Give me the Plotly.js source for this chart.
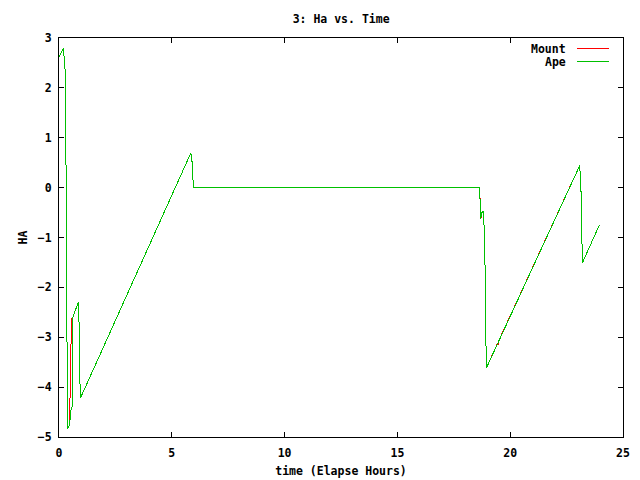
<!DOCTYPE html>
<html>
<head>
<meta charset="utf-8">
<script src="https://cdn.plot.ly/plotly-3.0.1.min.js"></script>
<style>html,body{margin:0;padding:0;background:#fff;}#chart{width:640px;height:480px;}
#chart .scatterlayer path, #chart .shapelayer path {shape-rendering: crispEdges;}</style>
</head>
<body>
<div id="chart"></div>
<script>
// Elapsed time (hours) and HA values
const apeTime = [0, 0.19, 0.20, 0.25, 0.26, 0.28, 0.29, 0.32, 0.33, 0.36, 0.37, 0.46, 0.49, 0.53, 0.58, 0.59, 0.61, 0.62, 0.68, 0.86, 0.87, 0.89, 0.92, 0.95, 5.85, 5.86, 5.92, 5.93, 5.96, 5.97,
  18.63, 18.65, 18.68, 18.70, 18.73, 18.80, 18.83, 18.86, 18.88, 18.90, 18.92, 18.94, 23.09, 23.11, 23.14, 23.15, 23.18, 23.20, 23.95];
const apeHA = [2.62, 2.79, 2.65, 2.62, 2.39, 2.35, 0.48, 0.45, -3.06, -3.10, -4.83, -4.76, -4.66, -4.46, -4.40, -3.46, -3.40, -2.59, -2.52, -2.29, -2.30, -2.78, -3.76, -4.22, 0.70, 0.54, 0.52, 0.16, 0.14, 0,
  0, -0.05, -0.50, -0.62, -0.50, -0.48, -0.52, -1.25, -1.28, -2.86, -2.90, -3.62, 0.45, -0.05, -0.08, -1.02, -1.05, -1.51, -0.75];

const mountTime = [0, 0.19, 0.20, 0.25, 0.26, 0.28, 0.29, 0.32, 0.33, 0.36, 0.37, 0.46, 0.47, 0.49, 0.53, 0.56, 0.62, 0.68, 0.86, 0.87, 0.89, 0.92, 0.95, 5.85, 5.86, 5.92, 5.93, 5.96, 5.97,
  18.63, 18.64, 18.66, 18.67, 18.69, 18.72, 18.74, 18.80, 18.83, 18.86, 18.88, 18.90, 18.92, 18.94, 19.45, 19.47, 19.50, 23.09, 23.11, 23.14, 23.15, 23.18, 23.20, 23.95];
const mountHA = [2.62, 2.79, 2.65, 2.62, 2.39, 2.35, 0.48, 0.45, -3.06, -3.10, -4.83, -4.76, -4.66, -4.19, -3.19, -2.62, -2.59, -2.52, -2.29, -2.30, -2.78, -3.76, -4.22, 0.70, 0.54, 0.52, 0.16, 0.14, 0,
  0, -0.12, -0.18, -0.31, -0.51, -0.61, -0.50, -0.48, -0.52, -1.25, -1.28, -2.86, -2.90, -3.62, -3.11, -3.16, -3.06, 0.45, -0.05, -0.08, -1.02, -1.05, -1.51, -0.75];

const seriesNames = ["Mount", "Ape"];
const seriesColors = ["#ff0000", "#00c000"];

const fnt = {family: "DejaVu Sans Mono, monospace", size: 11.5, color: "#000", weight: "bold"};

const traces = [
  {x: mountTime, y: mountHA, mode: "lines", name: seriesNames[0], line: {color: seriesColors[0], width: 1, simplify: false}},
  {x: apeTime, y: apeHA, mode: "lines", name: seriesNames[1], line: {color: seriesColors[1], width: 1, simplify: false}}
];

const legX = 0.9025, lx0 = 0.9184, lx1 = 0.975;
const legY = [0.973, 0.94];

const layout = {
  width: 640, height: 480,
  paper_bgcolor: "#fff", plot_bgcolor: "#fff",
  margin: {l: 59, r: 17, t: 38, b: 43},
  showlegend: false,
  font: fnt,
  title: {text: "3: Ha vs. Time", font: fnt, x: 0.533, xanchor: "center", y: 0.96, yanchor: "middle"},
  xaxis: {
    range: [0, 25], dtick: 5, tick0: 0, showgrid: false, zeroline: false,
    showline: true, linecolor: "#000", linewidth: 1, mirror: "ticks",
    ticks: "inside", ticklen: 5, tickcolor: "#000", tickfont: fnt, ticklabelstandoff: 5,
    title: {text: "time (Elapse Hours)", font: fnt, standoff: 8}
  },
  yaxis: {
    range: [-5, 3], dtick: 1, tick0: 0, showgrid: false, zeroline: false,
    showline: true, linecolor: "#000", linewidth: 1, mirror: "ticks",
    ticks: "inside", ticklen: 5, tickcolor: "#000", tickfont: fnt, ticklabelstandoff: 4,
    title: {text: "HA", font: fnt, standoff: 7}
  },
  annotations: seriesNames.map((n, i) => ({
    text: n, xref: "paper", yref: "paper", x: legX, y: legY[i],
    xanchor: "right", yanchor: "middle", showarrow: false, font: fnt
  })),
  shapes: seriesNames.map((n, i) => ({
    type: "line", xref: "paper", yref: "paper", x0: lx0, x1: lx1, y0: legY[i], y1: legY[i],
    line: {color: seriesColors[i], width: 1}
  }))
};

Plotly.newPlot("chart", traces, layout, {displayModeBar: false, staticPlot: true});
</script>
</body>
</html>
